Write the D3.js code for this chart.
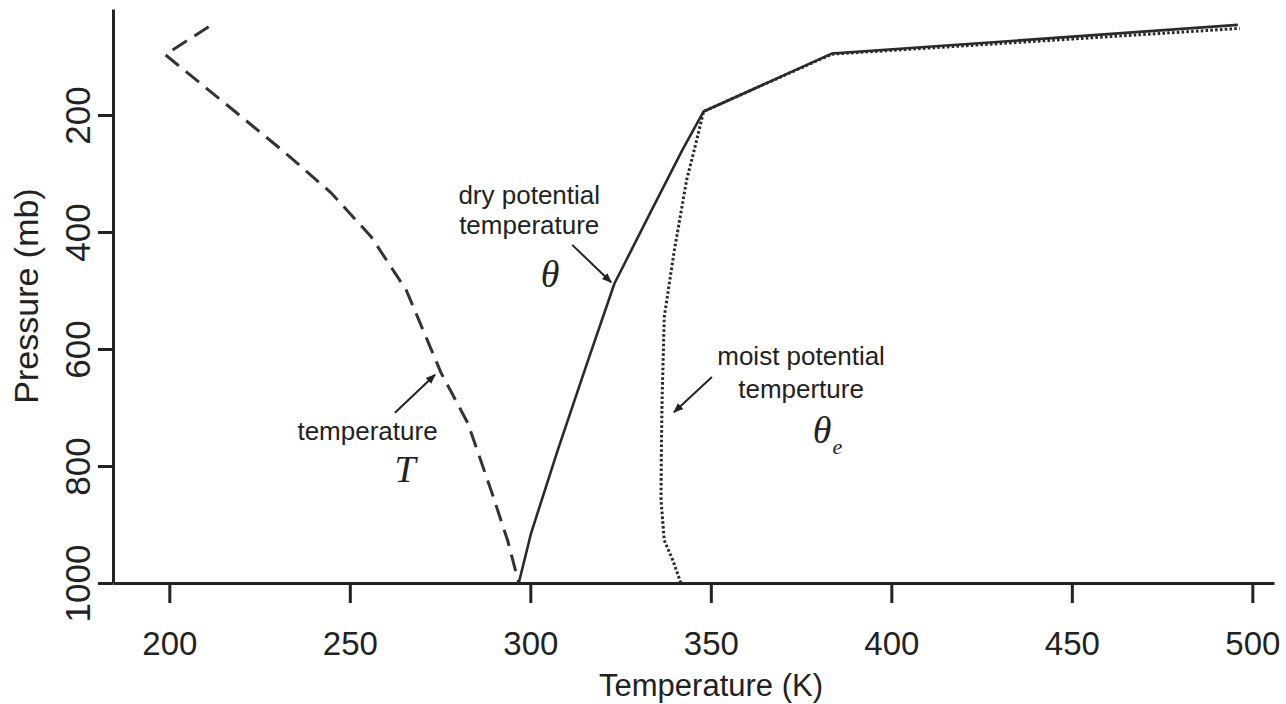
<!DOCTYPE html>
<html>
<head>
<meta charset="utf-8">
<script src="https://cdn.jsdelivr.net/npm/d3@7"></script>
<style>
  html, body { margin: 0; padding: 0; background: #fff; }
  svg { display: block; }
  text { font-family: "Liberation Sans", Arial, Helvetica, sans-serif; fill: #222; }
</style>
</head>
<body>
<svg id="chart" width="1286" height="704"></svg>
<script>
// ---- data: [temperature (K), pressure (mb)] ----
const temperature = [[210.9,49],[198.9,97],[217.6,191],[231.8,263],[244.8,333],[255.9,408],[265.6,499],[275.3,641],[282.7,727],[289.1,841],[293.7,927],[296.8,1000]];
const theta = [[296.8,1000],[300.2,915],[307.6,773],[315.4,630],[323.3,488],[333,370],[342.1,260],[348,194],[383.5,95],[496,46]];
const thetaE = [[341.7,1000],[339.4,960],[337.1,927],[336.2,858],[336.3,773],[336.5,687],[337.1,545],[339.9,431],[343.3,311],[345.6,255],[348,194],[383.5,96],[496.5,52]];
const xTicks = [200, 250, 300, 350, 400, 450, 500];
const yTicks = [200, 400, 600, 800, 1000];
const xTitle = "Temperature (K)";
const yTitle = "Pressure (mb)";
// annotations (data coordinates)
const annoT = { lines: ["temperature"], at: [254.9, 756], sym: "T", symAt: [265.3, 827], arrow: [[262.5, 709], [273.6, 644]] };
const annoTheta = { lines: ["dry potential", "temperature"], at: [299.7, 352], sym: "θ", symAt: [305.5, 494], arrow: [[311.6, 422], [322.4, 486]] };
const annoThetaE = { lines: ["moist potential", "temperture"], at: [375, 627], sym: "θ", sub: "e", symAt: [382.3, 761], arrow: [[350.3, 648], [339.8, 708]] };

// ---- scales ----
const svg = d3.select("#chart");
const x = d3.scaleLinear().domain([184.4, 506]).range([113, 1274]);
const y = d3.scaleLinear().domain([1000, 18.8]).range([583, 9]);

const defs = svg.append("defs");
defs.append("marker").attr("id", "ah").attr("viewBox", "0 0 10 10")
  .attr("refX", 9).attr("refY", 5).attr("markerWidth", 5).attr("markerHeight", 5)
  .attr("orient", "auto-start-reverse")
  .append("path").attr("d", "M0,1 L10,5 L0,9 z").attr("fill", "#222");

// ---- axes ----
const xAxis = svg.append("g").attr("transform", `translate(0,${y(1000)})`)
  .call(d3.axisBottom(x).tickValues(xTicks).tickSize(20).tickSizeOuter(0).tickFormat(d3.format("d")));
xAxis.select(".domain").attr("stroke", "#222").attr("stroke-width", 3);
xAxis.selectAll(".tick line").attr("stroke", "#222").attr("stroke-width", 3).attr("y1", 2);
xAxis.selectAll(".tick text").attr("y", 49).attr("dy", "0.71em")
  .style("font-size", "33px").attr("fill", "#222");

const yAxis = svg.append("g").attr("transform", `translate(${x.range()[0]},0)`)
  .call(d3.axisLeft(y).tickValues(yTicks).tickSize(15).tickSizeOuter(0).tickFormat(d3.format("d")));
yAxis.select(".domain").attr("stroke", "#222").attr("stroke-width", 3);
yAxis.selectAll(".tick line").attr("stroke", "#222").attr("stroke-width", 3);
yAxis.selectAll(".tick text").attr("x", 0).attr("y", 0).attr("dy", 0)
  .attr("text-anchor", "middle").attr("transform", "translate(-23,0) rotate(-90)")
  .style("font-size", "35px").attr("fill", "#222");

svg.append("text").attr("x", 711).attr("y", 696).attr("text-anchor", "middle")
  .style("font-size", "31px").text(xTitle);
svg.append("text").attr("text-anchor", "middle")
  .attr("transform", `translate(38,${(y.range()[0] + y.range()[1]) / 2}) rotate(-90)`)
  .style("font-size", "34px").text(yTitle);

// ---- lines ----
const line = d3.line().x(d => x(d[0])).y(d => y(d[1]));
svg.append("path").datum(temperature).attr("d", line).attr("fill", "none")
  .attr("stroke", "#333").attr("stroke-width", 3).attr("stroke-dasharray", "17,9");
svg.append("path").datum(thetaE).attr("d", line).attr("fill", "none")
  .attr("stroke", "#2a2a2a").attr("stroke-width", 3)
  .attr("stroke-dasharray", "2.6,2.2");
svg.append("path").datum(theta).attr("d", line).attr("fill", "none")
  .attr("stroke", "#2a2a2a").attr("stroke-width", 2.6).attr("stroke-linejoin", "round");

// ---- annotations ----
function annotate(a, lh) {
  a.lines.forEach((t, i) => {
    svg.append("text").attr("x", x(a.at[0])).attr("y", y(a.at[1]) + i * lh)
      .attr("text-anchor", "middle").style("font-size", "26px").text(t);
  });
  const s = svg.append("text").attr("x", x(a.symAt[0])).attr("y", y(a.symAt[1]))
    .attr("text-anchor", "middle")
    .style("font-family", '"Liberation Serif", "DejaVu Serif", serif')
    .style("font-style", "italic").style("font-size", "38px").text(a.sym);
  if (a.sub) {
    s.append("tspan").attr("dy", 11).attr("dx", 1).style("font-size", "22px").text(a.sub);
  }
  svg.append("line")
    .attr("x1", x(a.arrow[0][0])).attr("y1", y(a.arrow[0][1]))
    .attr("x2", x(a.arrow[1][0])).attr("y2", y(a.arrow[1][1]))
    .attr("stroke", "#222").attr("stroke-width", 2).attr("marker-end", "url(#ah)");
}
annotate(annoT, 30);
annotate(annoTheta, 30);
annotate(annoThetaE, 33);
</script>
</body>
</html>
